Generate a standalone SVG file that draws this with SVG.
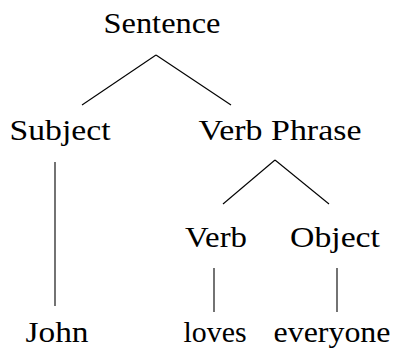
<svg xmlns="http://www.w3.org/2000/svg" width="393" height="350" viewBox="0 0 393 350">
<defs>
<style>
line{stroke:#000;stroke-width:1.1;fill:none}
</style>
</defs>
<rect width="393" height="350" fill="#fff"/>
<g id="connectors">
<line x1="156" y1="55" x2="82" y2="105"/>
<line x1="156" y1="55" x2="231" y2="105"/>
<line x1="55" y1="162" x2="55" y2="306"/>
<line x1="275" y1="160" x2="223" y2="204"/>
<line x1="275" y1="160" x2="329" y2="204"/>
<line x1="214" y1="268" x2="214" y2="312"/>
<line x1="337" y1="268" x2="337" y2="312"/>
</g>
<g font-family="Liberation Serif, DejaVu Serif, serif" font-size="29" fill="#000" text-anchor="middle">
<g id="sentence"><text x="162" y="33" textLength="117" lengthAdjust="spacingAndGlyphs">Sentence</text></g>
<g id="subject"><text x="60" y="140" textLength="101" lengthAdjust="spacingAndGlyphs">Subject</text></g>
<g id="verb-phrase"><text x="280" y="140" textLength="163" lengthAdjust="spacingAndGlyphs">Verb Phrase</text></g>
<g id="verb"><text x="216" y="247" textLength="62" lengthAdjust="spacingAndGlyphs">Verb</text></g>
<g id="object"><text x="335" y="247" textLength="90" lengthAdjust="spacingAndGlyphs">Object</text></g>
<g id="john"><text x="57" y="342" textLength="63" lengthAdjust="spacingAndGlyphs">John</text></g>
<g id="loves"><text x="215" y="342" textLength="63" lengthAdjust="spacingAndGlyphs">loves</text></g>
<g id="everyone"><text x="332" y="342" textLength="117" lengthAdjust="spacingAndGlyphs">everyone</text></g>
</g>
</svg>
